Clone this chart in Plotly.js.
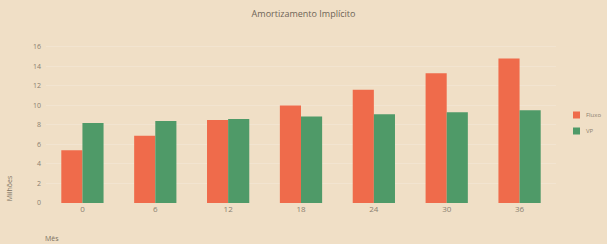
<!DOCTYPE html>
<html>
<head>
<meta charset="utf-8">
<script src="https://cdn.plot.ly/plotly-3.0.1.min.js"></script>
<style>
  html, body { margin: 0; padding: 0; background: #f0dfc6; }
  #chart { width: 607px; height: 244px; }
</style>
</head>
<body>
<div id="chart"></div>
<script>
const months = [0, 6, 12, 18, 24, 30, 36];
const fluxo = [5.4, 6.9, 8.5, 10.0, 11.6, 13.3, 14.8];
const vp = [8.2, 8.4, 8.6, 8.85, 9.1, 9.3, 9.5];
const yTicks = [0, 2, 4, 6, 8, 10, 12, 14, 16];
const seriesNames = ['Fluxo', 'VP'];
const seriesColors = ['#ef6b4b', '#4f9a68'];
const chartTitle = 'Amortizamento Implícito';

const traces = [
  { type: 'bar', name: seriesNames[0], x: months, y: fluxo, marker: { color: seriesColors[0] } },
  { type: 'bar', name: seriesNames[1], x: months, y: vp, marker: { color: seriesColors[1] } }
];

// Compact legend drawn in container coordinates (swatch + label per series)
const W = 607, H = 244;
const legendRowsY = [115, 131];
const shapes = seriesNames.map((n, i) => ({
  type: 'rect', xref: 'paper', yref: 'paper',
  x0: (573 - 46) / 510, x1: (580 - 46) / 510,
  y0: (203 - legendRowsY[i] - 3.5) / 163, y1: (203 - legendRowsY[i] + 3.5) / 163,
  fillcolor: seriesColors[i], line: { width: 0 }
}));
const legendLabels = seriesNames.map((n, i) => ({
  text: n, xref: 'paper', yref: 'paper',
  x: (584 - 46) / 510, y: (203 - legendRowsY[i]) / 163,
  xanchor: 'left', yanchor: 'middle', showarrow: false,
  font: { size: 6, color: '#8a8070' }
}));

const layout = {
  width: W, height: H,
  paper_bgcolor: '#f0dfc6', plot_bgcolor: '#f0dfc6',
  margin: { l: 46, r: 51, t: 40, b: 41, autoexpand: false },
  barmode: 'group', bargap: 0.42, bargroupgap: 0,
  showlegend: false,
  font: { family: 'Open Sans, sans-serif', size: 8, color: '#8a8070' },
  title: { text: chartTitle, x: 0.5, xanchor: 'center', y: 0.955, font: { size: 9, color: '#6e6456' } },
  xaxis: {
    tickmode: 'array', tickvals: months, ticktext: months.map(String),
    range: [-3, 39], showgrid: false, zeroline: false, showline: false,
    ticks: '', tickfont: { size: 8, color: '#8a8070' }
  },
  yaxis: {
    tickmode: 'array', tickvals: yTicks, ticktext: yTicks.map(String),
    range: [0, 16.7], showgrid: true, gridcolor: 'rgba(255,255,255,0.18)',
    zeroline: false, showline: false, ticks: '', ticklen: 0,
    ticklabelstandoff: 4,
    tickfont: { size: 7, color: '#8a8070' }
  },
  shapes: shapes,
  annotations: [
    { text: 'Milhões', xref: 'paper', yref: 'paper', x: -0.072, y: 0.0, xanchor: 'center', yanchor: 'bottom',
      textangle: -90, showarrow: false, font: { size: 7, color: '#7a7060' } },
    { text: 'Mês', xref: 'paper', yref: 'paper', x: -0.005, y: -0.215, xanchor: 'left', yanchor: 'middle',
      showarrow: false, font: { size: 7, color: '#7a7060' } }
  ].concat(legendLabels)
};

Plotly.newPlot('chart', traces, layout, { displayModeBar: false, staticPlot: true });
</script>
</body>
</html>
